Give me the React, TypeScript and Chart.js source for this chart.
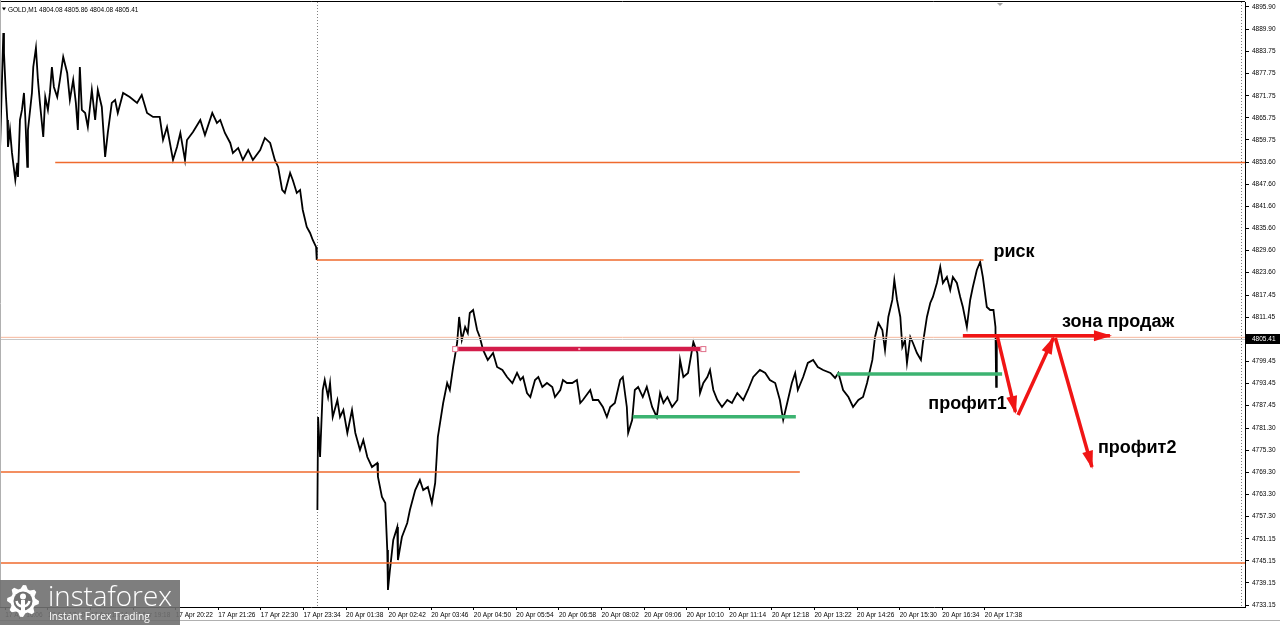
import React, { useEffect, useRef } from "react";
import { Chart, registerables } from "chart.js";

Chart.register(...registerables);

// ---------- data ----------
const fridayBars = [
  0,5,6,9,11,12,15,18,23,26,27,30,33,36,38,41,42,48,50,54,57,60,65,68,72,75,78,81,86,90,
  95,101,105,110,114,117,120,123,128,132,138,143,147,153,158,162,168,173,177,
  185,195,206,213,221,230,240,245,251,260,266,271,278,281,290,301,308,319,326,331,
  338,346,350,358,365,373,380,391,398,406,413,418,424,428,436,440,446,451,455,461,466,470,475,476,
];
const fridayPrices = [
  4856.99,4888.84,4883.39,4871.42,4865.16,4857.81,4862.44,4856.18,4848.83,4853.45,
  4849.64,4865.16,4867.88,4872.51,4865.97,4852.37,4862.44,4872.51,4879.58,4884.76,
  4876.05,4869.79,4860.53,4871.42,4867.88,4872.51,4879.58,4874.14,4871.42,4876.05,
  4882.31,4877.95,4870.60,4876.05,4869.79,4862.44,4879.58,4867.88,4867.06,4863.25,
  4873.32,4865.16,4873.32,4868.70,4855.09,4861.62,4869.79,4870.60,4867.06,
  4872.51,4871.42,4869.79,4871.96,4867.06,4865.97,4865.97,4859.71,4863.25,4854.27,
  4857.81,4861.62,4854.27,4859.71,4861.89,4865.16,4861.08,4867.06,4864.34,4865.16,
  4861.62,4858.90,4856.18,4857.54,4854.27,4856.99,4854.27,4856.99,4860.26,4858.90,
  4854.27,4852.37,4846.11,4845.29,4850.73,4848.83,4845.29,4846.11,4840.66,4836.03,
  4834.40,4832.50,4830.59,4827.05,
];
const mondayBars = [
  477,478,481,485,488,493,496,500,507,511,516,522,529,534,541,546,552,559,567,568,
  574,579,582,583,586,591,597,598,604,612,616,624,631,636,643,649,654,658,666,672,
  676,681,687,690,694,699,703,706,711,717,721,726,733,741,747,755,762,770,777,782,
  786,792,797,804,809,815,822,830,834,842,846,852,860,867,872,876,887,891,899,906,
  912,917,924,932,936,942,944,950,954,959,966,972,980,987,992,997,1003,1010,1018,1022,
  1027,1034,1042,1048,1052,1057,1063,1067,1072,1078,
  1085,1093,1100,1108,1117,1124,1132,1142,1150,1157,1165,1172,1177,1183,1190,1195,1199,1207,1214,1222,
  1229,1237,1248,1255,1260,1267,1275,1282,1290,1297,1303,1311,1315,1320,1326,1330,1335,1341,1344,1348,
  1353,1356,1360,1363,1368,1372,1378,1384,1387,1393,1398,1402,1408,1413,1417,1423,1428,1432,1438,1443,
  1447,1453,1458,1462,1468,1473,1477,1483,1488,1493,1496,1497,1498,
];
const mondayPrices = [
  4759.01,4784.32,4773.43,4791.67,4794.39,4789.76,4793.57,4784.32,4788.95,4784.32,
  4786.23,4779.97,4786.23,4779.97,4775.34,4778.06,4773.43,4770.71,4771.80,4767.99,
  4762.55,4760.91,4748.12,4737.23,4742.68,4750.84,4754.38,4745.40,4751.66,4755.47,
  4759.01,4764.45,4767.17,4764.45,4765.27,4760.91,4766.36,4778.88,4788.13,4793.57,
  4791.67,4797.93,4804.46,4811.54,4805.28,4808.82,4807.18,4812.63,4813.44,4808.00,
  4806.10,4802.56,4799.84,4801.74,4797.93,4797.11,4795.21,4793.57,4796.30,4794.39,
  4795.21,4790.85,4789.76,4794.39,4795.21,4792.49,4793.57,4792.49,4789.76,4791.67,
  4794.39,4793.57,4793.57,4794.39,4788.13,4788.95,4791.67,4788.95,4788.95,4787.04,
  4784.32,4787.04,4788.13,4794.39,4795.21,4787.04,4779.97,4783.50,4791.67,4792.49,
  4789.76,4792.49,4787.04,4784.32,4790.85,4788.13,4789.76,4787.04,4788.95,4799.84,
  4795.21,4796.30,4804.73,4801.74,4790.85,4793.57,4795.21,4797.11,4791.67,4788.95,
  4787.04,4788.95,4788.13,4790.85,4788.95,4791.67,4795.21,4797.11,4796.30,4794.39,
  4793.57,4788.95,4783.50,4788.13,4793.57,4796.30,4791.67,4795.21,4799.02,4799.84,
  4797.93,4797.11,4796.30,4794.94,4796.30,4791.67,4789.76,4787.04,4788.95,4789.76,
  4793.57,4799.84,4806.10,4809.91,4808.00,4802.56,4811.54,4816.17,4821.61,4816.17,
  4811.54,4803.37,4805.28,4799.02,4806.10,4804.46,4801.74,4799.84,4804.46,4811.54,
  4815.35,4816.98,4820.79,4825.15,4820.79,4822.43,4818.89,4822.43,4820.79,4816.98,
  4814.26,4808.82,4816.17,4819.70,4824.33,4826.51,4822.43,4814.26,4813.44,4813.44,
  4808.82,4792.49,4805.41,
];

const xTickBars = [8,72,136,200,264,328,392,456,520,584,648,712,776,840,904,968,1032,1096,1160,1224,1288,1352,1416,1480];
const xTickLabels = [
  "17 Apr 16:06","17 Apr 17:10","17 Apr 18:14","17 Apr 19:18","17 Apr 20:22","17 Apr 21:26",
  "17 Apr 22:30","17 Apr 23:34","20 Apr 01:38","20 Apr 02:42","20 Apr 03:46","20 Apr 04:50",
  "20 Apr 05:54","20 Apr 06:58","20 Apr 08:02","20 Apr 09:06","20 Apr 10:10","20 Apr 11:14",
  "20 Apr 12:18","20 Apr 13:22","20 Apr 14:26","20 Apr 15:30","20 Apr 16:34","20 Apr 17:38",
];
const yTickValues = [4895.90,4889.90,4883.75,4877.75,4871.75,4865.75,4859.75,4853.60,4847.60,4841.60,4835.60,4829.60,4823.60,4817.45,4811.45,4799.45,4793.45,4787.45,4781.30,4775.30,4769.30,4763.30,4757.30,4751.15,4745.15,4739.15,4733.15];

const symbolTitle = "GOLD,M1 4804.08 4805.86 4804.08 4805.41";
const lastPrice = 4805.41;
const askPrice = 4806.0;

const levelPrices = [4853.6, 4827.05, 4769.35, 4744.6];
const levelStartBars = [83, 476, 0, 0];
const levelEndBars = [1871, 1478, 1202, 1871];

const resistancePrice = 4802.8;
const resistanceStartBar = 684;
const resistanceEndBar = 1057;

const supportPrices = [4784.4, 4796.0];
const supportStartBars = [951, 1258];
const supportEndBars = [1196, 1506];

const arrowFromBars = [1447, 1499, 1530, 1586];
const arrowFromPrices = [4806.4, 4806.1, 4784.87, 4805.82];
const arrowToBars = [1668, 1526, 1583, 1641];
const arrowToPrices = [4806.4, 4785.68, 4805.82, 4770.71];

const noteTexts = ["риск", "зона продаж", "профит1", "профит2"];
const noteBars = [1493, 1596, 1395, 1650];
const notePrices = [4827.95, 4808.8, 4786.5, 4774.4];

const separatorBars = [476.5, 1865];

// ---------- styles ----------
const ORANGE = "#ef6a2d";
const RED = "#f01515";
const CRIMSON = "#d31c4a";
const GREEN = "#3cb371";
const AXIS_FONT = { family: "'Liberation Sans', Arial, sans-serif", size: 6.5 };

const pts = (bars: number[], prices: number[]) => bars.map((b, i) => ({ x: b, y: prices[i] }));

const zeroPadding = (s: any) => {
  s.paddingTop = 0;
  s.paddingBottom = 0;
  s.paddingLeft = 0;
  s.paddingRight = 0;
};

const overlayPlugin = {
  id: "overlay",
  beforeDatasetsDraw(chart: any) {
    const { ctx, chartArea, scales } = chart;
    const xs = scales.x;
    ctx.save();
    ctx.strokeStyle = "#808080";
    ctx.lineWidth = 1;
    ctx.setLineDash([1, 2]);
    separatorBars.forEach((b) => {
      const px = Math.round(xs.getPixelForValue(b)) + 0.5;
      ctx.beginPath();
      ctx.moveTo(px, chartArea.top);
      ctx.lineTo(px, chartArea.bottom);
      ctx.stroke();
    });
    ctx.restore();
  },
  afterDatasetsDraw(chart: any) {
    const { ctx, scales } = chart;
    const xs = scales.x, ys = scales.y;
    ctx.save();
    ctx.fillStyle = RED;
    arrowToBars.forEach((b, i) => {
      const x1 = xs.getPixelForValue(b), y1 = ys.getPixelForValue(arrowToPrices[i]);
      const x0 = xs.getPixelForValue(arrowFromBars[i]), y0 = ys.getPixelForValue(arrowFromPrices[i]);
      const a = Math.atan2(y1 - y0, x1 - x0);
      const len = 16, hw = 5.5;
      ctx.beginPath();
      ctx.moveTo(x1 + 2 * Math.cos(a), y1 + 2 * Math.sin(a));
      ctx.lineTo(x1 - len * Math.cos(a) + hw * Math.sin(a), y1 - len * Math.sin(a) - hw * Math.cos(a));
      ctx.lineTo(x1 - len * Math.cos(a) - hw * Math.sin(a), y1 - len * Math.sin(a) + hw * Math.cos(a));
      ctx.closePath();
      ctx.fill();
    });
    const ry = ys.getPixelForValue(resistancePrice);
    ctx.strokeStyle = "#e0708a";
    ctx.lineWidth = 1;
    [resistanceStartBar, resistanceEndBar].forEach((b) => {
      const px = xs.getPixelForValue(b);
      ctx.fillStyle = "#ffffff";
      ctx.fillRect(px - 3, ry - 3, 6, 6);
      ctx.strokeRect(px - 2.5, ry - 2.5, 5, 5);
    });
    const mx = xs.getPixelForValue((resistanceStartBar + resistanceEndBar) / 2);
    ctx.fillStyle = "#f4b0c0";
    ctx.fillRect(mx - 1, ry - 1, 2, 2);
    ctx.restore();
  },
  afterDraw(chart: any) {
    const { ctx, chartArea, scales } = chart;
    const ys = scales.y, xs = scales.x;
    ctx.save();
    ctx.strokeStyle = "#000";
    ctx.lineWidth = 1;
    ctx.beginPath();
    ctx.moveTo(0, 1.5);
    ctx.lineTo(chartArea.right, 1.5);
    ctx.stroke();
    ctx.strokeStyle = "#b0b0b0";
    ctx.beginPath();
    ctx.moveTo(0, 620.5);
    ctx.lineTo(1280, 620.5);
    ctx.moveTo(0.5, 0);
    ctx.lineTo(0.5, chartArea.bottom);
    ctx.stroke();
    ctx.fillStyle = "#a0a0a0";
    ctx.beginPath();
    ctx.moveTo(997, 3);
    ctx.lineTo(1003, 3);
    ctx.lineTo(1000, 6);
    ctx.closePath();
    ctx.fill();

    // title
    ctx.fillStyle = "#000";
    ctx.beginPath();
    ctx.moveTo(2, 7.5);
    ctx.lineTo(6, 7.5);
    ctx.lineTo(4, 10.5);
    ctx.closePath();
    ctx.fill();
    ctx.font = "6.5px 'Liberation Sans', Arial, sans-serif";
    ctx.textBaseline = "alphabetic";
    ctx.textAlign = "left";
    ctx.fillText(symbolTitle, 8, 11.5);

    // price label
    const py = Math.round(ys.getPixelForValue(lastPrice));
    ctx.fillStyle = "#000";
    ctx.fillRect(chartArea.right + 1, py - 5, 35, 10);
    ctx.fillStyle = "#fff";
    ctx.font = "6.5px 'Liberation Sans', Arial, sans-serif";
    ctx.textBaseline = "middle";
    ctx.fillText(lastPrice.toFixed(2), chartArea.right + 7, py + 0.5);

    // notes
    ctx.fillStyle = "#000";
    ctx.font = "bold 18px 'Liberation Sans', Arial, sans-serif";
    ctx.textBaseline = "alphabetic";
    noteTexts.forEach((t, i) => {
      ctx.fillText(t, xs.getPixelForValue(noteBars[i]), ys.getPixelForValue(notePrices[i]));
    });

    // logo
    ctx.fillStyle = "rgba(112,112,112,0.9)";
    ctx.fillRect(0, 580, 180, 45);
    ctx.fillStyle = "#fff";
    const cx = 23, cy = 601;
    ctx.beginPath();
    const teeth = 8;
    for (let k = 0; k < teeth * 4; k++) {
      const ang = (k / (teeth * 4)) * Math.PI * 2;
      const r = (k % 4 === 0 || k % 4 === 1) ? 16 : 12.5;
      const px = cx + r * Math.cos(ang), pyy = cy + r * Math.sin(ang);
      if (k === 0) ctx.moveTo(px, pyy); else ctx.lineTo(px, pyy);
    }
    ctx.closePath();
    ctx.fill();
    ctx.fillStyle = "rgba(112,112,112,1)";
    ctx.beginPath();
    ctx.arc(cx, cy, 9.5, 0, Math.PI * 2);
    ctx.fill();
    ctx.fillStyle = "#fff";
    ctx.beginPath();
    ctx.arc(cx, cy - 4.5, 3, 0, Math.PI * 2);
    ctx.fill();
    ctx.fillRect(cx - 2, cy - 1, 4, 12);
    ctx.beginPath();
    ctx.lineWidth = 2.5;
    ctx.strokeStyle = "#fff";
    ctx.arc(cx, cy - 1, 6.5, Math.PI * 0.05, Math.PI * 0.95);
    ctx.stroke();
    const fit = (text: string, weight: string, family: string, target: number, start: number) => {
      ctx.font = `${weight} ${start}px ${family}`;
      const w = ctx.measureText(text).width;
      ctx.font = `${weight} ${start * target / w}px ${family}`;
    };
    ctx.textBaseline = "alphabetic";
    fit("instaforex", "300", "'Open Sans', 'Liberation Sans', sans-serif", 124, 30);
    ctx.fillText("instaforex", 48, 606);
    fit("Instant Forex Trading", "400", "'Open Sans', 'Liberation Sans', sans-serif", 101, 11);
    ctx.fillText("Instant Forex Trading", 49, 620);
    ctx.restore();
  },
};

export default function App() {
  const ref = useRef<HTMLCanvasElement>(null);
  useEffect(() => {
    const canvas = ref.current;
    if (!canvas) return;
    const line = (data: any[], color: string, width: number, order: number) => ({
      data,
      borderColor: color,
      backgroundColor: color,
      borderWidth: width,
      pointRadius: 0,
      pointHoverRadius: 0,
      fill: false,
      tension: 0,
      spanGaps: false,
      order,
    });
    const datasets: any[] = [
      line(pts(fridayBars, fridayPrices), "#000", 1.8, 100),
      line(pts(mondayBars, mondayPrices), "#000", 1.8, 100),
      line([{ x: 0, y: askPrice }, { x: 1871, y: askPrice }], "#f6b79c", 1, 90),
      line([{ x: 0, y: lastPrice }, { x: 1871, y: lastPrice }], "#c8c8c8", 1, 90),
    ];
    levelPrices.forEach((p, i) => {
      datasets.push(line([{ x: levelStartBars[i], y: p }, { x: levelEndBars[i], y: p }], ORANGE, 1.5, 5));
    });
    datasets.push(line([{ x: resistanceStartBar, y: resistancePrice }, { x: resistanceEndBar, y: resistancePrice }], CRIMSON, 4.5, 4));
    supportPrices.forEach((p, i) => {
      datasets.push(line([{ x: supportStartBars[i], y: p }, { x: supportEndBars[i], y: p }], GREEN, 3.5, 4));
    });
    arrowFromBars.forEach((b, i) => {
      datasets.push(line([{ x: b, y: arrowFromPrices[i] }, { x: arrowToBars[i], y: arrowToPrices[i] }], RED, 3.5, 1));
    });

    const chart = new Chart(canvas, {
      type: "line",
      data: { datasets },
      plugins: [overlayPlugin],
      options: {
        animation: false,
        responsive: false,
        devicePixelRatio: 1,
        events: [],
        layout: { padding: { top: 2, left: 0, right: 0, bottom: 0 } },
        plugins: { legend: { display: false }, tooltip: { enabled: false }, title: { display: false } },
        scales: {
          x: {
            type: "linear",
            min: 0,
            max: 1871,
            afterBuildTicks: (s: any) => { s.ticks = xTickBars.map((v) => ({ value: v })); },
            afterFit: (s: any) => { s.height = 18; zeroPadding(s); },
            ticks: {
              autoSkip: false,
              maxRotation: 0,
              minRotation: 0,
              align: "start",
              padding: 1,
              color: "#000",
              font: AXIS_FONT,
              callback: (_v: any, i: number) => xTickLabels[i],
            },
            grid: { drawOnChartArea: false, drawTicks: true, tickLength: 3, color: "#000" },
            border: { display: true, color: "#000" },
          },
          y: {
            type: "linear",
            position: "right",
            min: 4732.61,
            max: 4897.26,
            afterBuildTicks: (s: any) => { s.ticks = yTickValues.map((v) => ({ value: v })); },
            afterFit: (s: any) => { s.width = 35; zeroPadding(s); },
            ticks: {
              autoSkip: false,
              padding: 3,
              color: "#000",
              font: AXIS_FONT,
              callback: (v: any) => Number(v).toFixed(2),
            },
            grid: { drawOnChartArea: false, drawTicks: true, tickLength: 4, color: "#000" },
            border: { display: true, color: "#000" },
          },
        },
      } as any,
    });
    return () => chart.destroy();
  }, []);
  return (
    <div style={{ position: "fixed", left: 0, top: 0, width: 1280, height: 625, background: "#fff" }}>
      <canvas ref={ref} width={1280} height={625} style={{ display: "block", width: 1280, height: 625 }} />
    </div>
  );
}
